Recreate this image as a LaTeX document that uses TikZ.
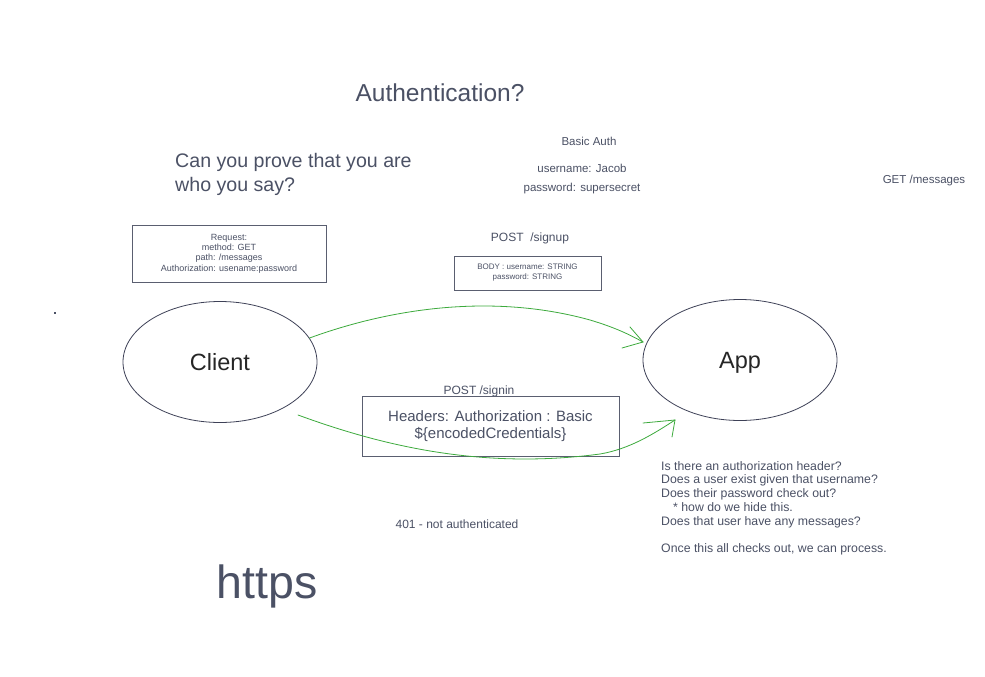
\documentclass[tikz,border=0pt]{standalone}
\usepackage{fontspec}
\setmainfont{Liberation Sans}
\usetikzlibrary{shapes.geometric}
\definecolor{inkgray}{HTML}{4B5165}
\definecolor{edgegray}{HTML}{3E4157}
\definecolor{boxgray}{HTML}{5A5E70}
\definecolor{arrowgreen}{HTML}{3DAA3D}

\begin{document}
\begin{tikzpicture}[x=1pt, y=-1pt,
    txt/.style={text=inkgray, inner sep=0pt},
    card/.style={draw=boxgray, thick, text=inkgray, align=center, inner sep=0pt},
    actor/.style={ellipse, draw=edgegray, thick, text=black!85, inner sep=0pt,
                  minimum width=194, minimum height=121, text depth=0pt,
                  font=\fontsize{23.5}{27}\selectfont},
    flow/.style={draw=arrowgreen, thick, line cap=round}]
      \useasboundingbox[fill=white] (0,0) rectangle (985,677);
      \node[txt, font=\fontsize{24.5}{28}\selectfont] (title) at (440,93) {Authentication?};
      \node[txt, anchor=west, align=left, font=\fontsize{19.6}{24}\selectfont] (prove) at (175,174) {Can you prove that you are\\who you say?};
      \node[txt, font=\fontsize{11.5}{14}\selectfont] (basic) at (589,141) {Basic Auth};
      \node[txt, align=center, font=\fontsize{11.5}{19}\selectfont] (creds) at (582,179) {username: Jacob\\password: supersecret};
      \node[txt, font=\fontsize{11.5}{14}\selectfont] (getmsg) at (924,181) {GET /messages};
      \node[card, minimum width=194, minimum height=57, font=\fontsize{9}{10.3}\selectfont] (request) at (229,253.5)
        {Request:\\method: GET\\path: /messages\\Authorization: usename:password};
      \node[txt, font=\fontsize{12}{14}\selectfont] (signup) at (530,238) {POST\ \ /signup};
      \node[card, minimum width=147, minimum height=34, text depth=3pt, font=\fontsize{8}{10}\selectfont] (body) at (527.5,273)
        {BODY : username: STRING\\password: STRING};
      \fill[inkgray] (54,312) rectangle (56,314);
      \node[actor] (client) at (220,362) {Client};
      \node[actor] (app) at (740,360) {App};
      \node[txt, font=\fontsize{12}{14}\selectfont] (signin) at (479,391) {POST /signin};
      \node[card, minimum width=257, minimum height=60, font=\fontsize{15}{17.5}\selectfont] (headers) at (490.5,426)
        {Headers: Authorization : Basic\\\$\{encodedCredentials\}};
      \node[txt, font=\fontsize{12}{14}\selectfont] (denied) at (457,524) {401 - not authenticated};
      \node[txt, anchor=north west, align=left, font=\fontsize{12.3}{13.8}\selectfont] (checks) at (661,461)
        {Is there an authorization header?\\Does a user exist given that username?\\Does their password check out?\\
         \hspace*{12pt}* how do we hide this.\\Does that user have any messages?\\[13.8pt]
         Once this all checks out, we can process.};
      \node[txt, font=\fontsize{46.5}{52}\selectfont] (https) at (267,586) {https};
      % hand drawn arrows
      \coordinate (tipA) at (643,342);
      \coordinate (startB) at (298,415);
      \coordinate (tipB) at (675,420);
      \draw[flow] (client.15) .. controls (400,305) and (500,295) .. (590,320)
                  .. controls (610,326) and (625,332) .. (tipA);
      \draw[flow] (tipA) -- ++(-13,-15);
      \draw[flow] (tipA) -- ++(-21,6);
      \draw[flow] (startB) .. controls (380,445) and (480,470) .. (600,454)
                  .. controls (630,449) and (655,433) .. (tipB);
      \draw[flow] (tipB) -- ++(-32,3);
      \draw[flow] (tipB) -- ++(-3,17);
\end{tikzpicture}
\end{document}
